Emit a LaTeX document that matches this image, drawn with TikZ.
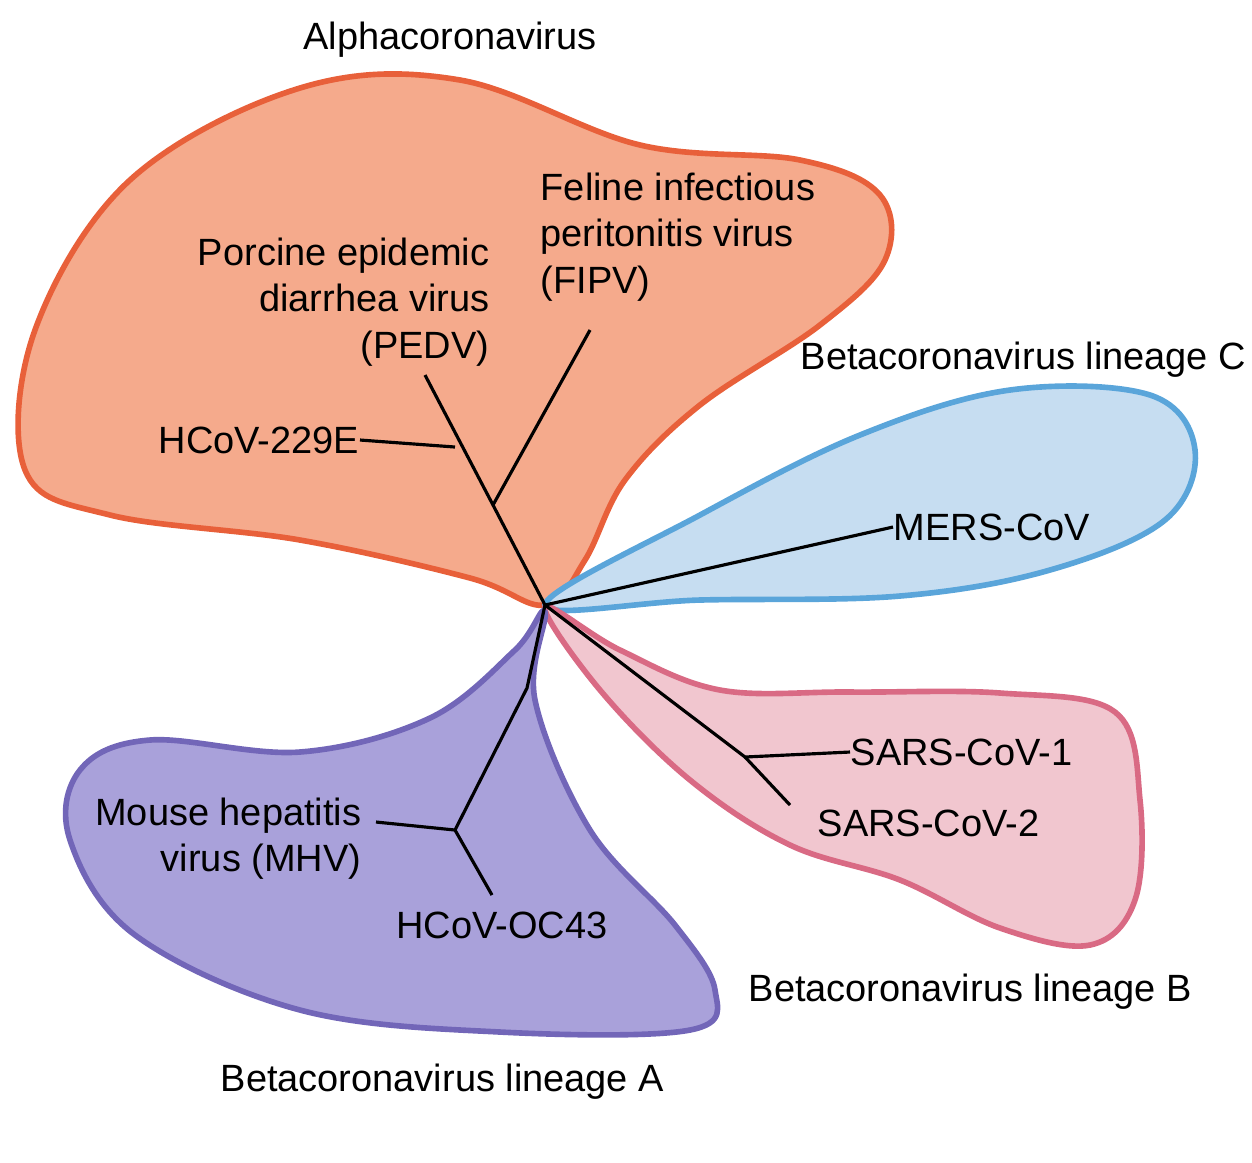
\documentclass[tikz,border=0pt]{standalone}
\usepackage{fontspec}
\setmainfont{Liberation Sans}
\begin{document}
\begin{tikzpicture}[x=0.01cm,y=-0.01cm,
  lbl/.style={font=\fontsize{10.8}{13.2}\selectfont,inner sep=0pt},
  br/.style={line width=0.9pt,black},
  blob/.style={line width=1.6pt}]
\useasboundingbox (0,0) rectangle (1252,1162);
\definecolor{orF}{HTML}{F5AA8C}\definecolor{orE}{HTML}{E8603A}
\definecolor{blF}{HTML}{C6DDF1}\definecolor{blE}{HTML}{5AA5DA}
\definecolor{pkF}{HTML}{F1C6CF}\definecolor{pkE}{HTML}{D96A84}
\definecolor{puF}{HTML}{A9A1DA}\definecolor{puE}{HTML}{7266B8}
% Alpha
\draw[blob,fill=orF,draw=orE] plot[smooth cycle,tension=0.6] coordinates{
(545,605)(470,578)(300,540)(110,515)(25,470)(35,330)(130,180)(300,88)(460,80)(640,145)(800,160)(880,195)(885,260)(820,325)(700,405)(625,480)(585,560)};
% Blue
\draw[blob,fill=blF,draw=blE] plot[smooth cycle,tension=0.6] coordinates{
(545,605)(700,515)(860,435)(1010,390)(1150,395)(1195,450)(1165,520)(1050,570)(900,596)(700,600)};
% Pink
\draw[blob,fill=pkF,draw=pkE] plot[smooth cycle,tension=0.6] coordinates{
(545,607)(620,650)(720,690)(850,692)(1000,693)(1115,712)(1140,800)(1135,900)(1090,945)(1000,928)(900,880)(790,845)(690,780)(600,690)};
% Purple
\draw[blob,fill=puF,draw=puE] plot[smooth cycle,tension=0.6] coordinates{
(545,612)(535,700)(590,830)(675,925)(715,990)(690,1030)(500,1032)(300,1010)(135,935)(70,840)(80,770)(150,740)(300,752)(430,718)(515,650)};
% tree
\coordinate (c) at (545,605);
\coordinate (a1) at (493,505);\coordinate (a2) at (455,447);
\node[lbl,anchor=east] (hcov) at (360,440) {HCoV-229E};
\coordinate (pedv) at (425,375);\coordinate (fipv) at (590,330);
\draw[br] (c)--(a1)--(pedv); \draw[br] (a1)--(fipv); \draw[br] (hcov.east)--(a2);
\node[lbl,anchor=west] (mers) at (893,527) {MERS-CoV};
\draw[br] (c)--(mers.west);
\coordinate (s) at (745,757);
\node[lbl,anchor=west] (s1) at (850,752) {SARS-CoV-1};
\node[lbl,anchor=west] (s2) at (817,823) {SARS-CoV-2};
\coordinate (s2e) at (790,805);
\draw[br] (c)--(s)--(s1.west); \draw[br] (s)--(s2e);
\coordinate (m0) at (527,688);\coordinate (m) at (455,830);
\coordinate (mhe) at (376,822);\coordinate (oce) at (492,895);
\draw[br] (c)--(m0)--(m)--(mhe); \draw[br] (m)--(oce);
% labels
\node[lbl] (alpha) at (450,40) {Alphacoronavirus};
\node[lbl,anchor=north west,align=left] (fel) at (540,172) {Feline infectious\\peritonitis virus\\(FIPV)};
\node[lbl,anchor=north east,align=right] (por) at (490,237) {Porcine epidemic\\diarrhea virus\\(PEDV)};
\node[lbl,anchor=west] (lc) at (800,360) {Betacoronavirus lineage C};
\node[lbl,anchor=north east,align=right] (mhv) at (362,797) {Mouse hepatitis\\virus (MHV)};
\node[lbl] (oc) at (502,925) {HCoV-OC43};
\node[lbl,anchor=west] (lb) at (748,992) {Betacoronavirus lineage B};
\node[lbl,anchor=west] (la) at (220,1082) {Betacoronavirus lineage A};
\end{tikzpicture}
\end{document}
